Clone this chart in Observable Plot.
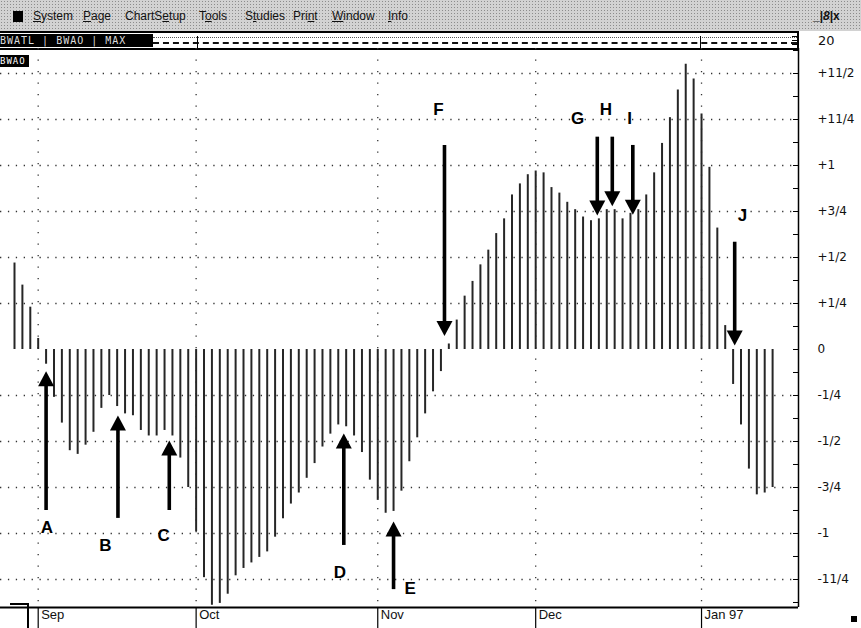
<!DOCTYPE html>
<html><head><meta charset="utf-8">
<script src="https://cdn.jsdelivr.net/npm/d3@7"></script>
<script src="https://cdn.jsdelivr.net/npm/@observablehq/plot@0.6"></script>
<style>
html,body{margin:0;padding:0;background:#fff;}
#page{position:relative;width:861px;height:628px;overflow:hidden;font-family:"Liberation Sans",Arial,sans-serif;}
#menu{position:absolute;left:0;top:0;width:861px;height:31px;background-color:#d2d2d2;background-image:radial-gradient(#8c8c8c 0.7px,transparent 0.9px);background-size:3px 3px;}
.mi{position:absolute;top:9px;font-size:12px;line-height:14px;color:#111;white-space:nowrap;}
#icon{position:absolute;left:13px;top:11px;width:10px;height:11px;background:#000;}
.blk{position:absolute;background:#000;}
#chart{position:absolute;left:0;top:48px;}
.lab{position:absolute;color:#ddd;background:#000;font-family:"DejaVu Sans Mono",monospace;font-size:10px;line-height:13px;letter-spacing:1px;white-space:pre;}
[aria-label="ylabels"]{letter-spacing:2.4px;}
[aria-label="months"]{letter-spacing:1.2px;}
</style></head>
<body><div id="page">
  <div id="menu">
    <div id="icon"></div>
    <div class="mi" style="left:33px"><u>S</u>ystem</div>
    <div class="mi" style="left:83px"><u>P</u>age</div>
    <div class="mi" style="left:125px">ChartS<u>e</u>tup</div>
    <div class="mi" style="left:199px">T<u>o</u>ols</div>
    <div class="mi" style="left:245px">S<u>t</u>udies</div>
    <div class="mi" style="left:293px">Pri<u>n</u>t</div>
    <div class="mi" style="left:332px"><u>W</u>indow</div>
    <div class="mi" style="left:388px"><u>I</u>nfo</div>
    <div class="mi" style="left:813px;font-weight:bold">_|<span style="font-style:italic">8</span>|x</div>
  </div>
  <div class="blk" style="left:0;top:31px;width:798px;height:2px"></div>
  <div class="lab" style="left:0;top:34px;width:153px;height:13px">BWATL | BWAO | MAX</div>
  <div style="position:absolute;left:153px;top:37px;width:644px;height:0;border-top:1px dotted #555"></div>
  <div style="position:absolute;left:153px;top:42px;width:644px;height:0;border-top:2px dashed #111"></div>
  <div class="blk" style="left:197px;top:36px;width:1px;height:12px"></div>
  <div class="blk" style="left:700px;top:36px;width:1px;height:12px"></div>
  <div class="blk" style="left:0;top:48px;width:798px;height:2px"></div>
  <div class="blk" style="left:797px;top:31px;width:2px;height:18px"></div>
  <div class="blk" style="left:792px;top:36px;width:5px;height:1px"></div>
  <div class="blk" style="left:792px;top:40px;width:5px;height:1px"></div>
  <div class="blk" style="left:792px;top:44px;width:5px;height:1px"></div>
  <div style="position:absolute;left:818px;top:33px;font-size:13px;color:#111;font-family:'DejaVu Sans',sans-serif">20</div>
  <div id="chart"></div>
  <div class="lab" style="left:0;top:55px;width:29px;height:12px;color:#fff;font-size:9px;line-height:12px">BWAO</div>
  <div class="blk" style="left:10px;top:603px;width:18px;height:1.5px"></div>
  <div class="blk" style="left:27px;top:603px;width:1.5px;height:25px"></div>
  <div class="blk" style="left:851px;top:616px;width:6px;height:6px"></div>
</div>
<script>
// Daily BWAO oscillator values, one per trading day (late Aug 1996 .. early Jan 1997)
const values = [
  0.47, 0.35, 0.23, 0.06, -0.08, -0.26, -0.40, -0.55, -0.57, -0.52,
  -0.45, -0.32, -0.25, -0.31, -0.35, -0.36, -0.44, -0.47, -0.47, -0.44,
  -0.47, -0.59, -0.75, -0.99, -1.24, -1.39, -1.38, -1.33, -1.23, -1.19,
  -1.16, -1.13, -1.10, -1.02, -0.92, -0.84, -0.78, -0.70, -0.62, -0.53,
  -0.46, -0.41, -0.42, -0.47, -0.56, -0.71, -0.82, -0.89, -0.88, -0.77,
  -0.61, -0.48, -0.35, -0.23, -0.12, 0.03, 0.16, 0.29, 0.37, 0.46,
  0.54, 0.63, 0.71, 0.84, 0.90, 0.95, 0.97, 0.96, 0.88, 0.85,
  0.80, 0.76, 0.72, 0.70, 0.71, 0.76, 0.76, 0.71, 0.74, 0.76,
  0.84, 0.96, 1.12, 1.26, 1.41, 1.55, 1.47, 1.28, 0.99, 0.66,
  0.13, -0.19, -0.41, -0.65, -0.79, -0.78, -0.75
];
// first trading day of each month (bar index)
const monthTicks = [3, 23, 46, 66, 87];
const monthLabels = ["Sep", "Oct", "Nov", "Dec", "Jan 97"];
const yTickValues = [-1.25, -1, -0.75, -0.5, -0.25, 0, 0.25, 0.5, 0.75, 1, 1.25, 1.5];
const yTickLabels = ["-11/4", "-1", "-3/4", "-1/2", "-1/4", "0", "+1/4", "+1/2", "+3/4", "+1", "+11/4", "+11/2"];
const gridLevels = [-1.25, -1, -0.75, -0.5, -0.25, 0.25, 0.5, 0.75, 1, 1.25, 1.5];
const minorLevels = d3.range(-11, 14).map(k => k / 8);
// annotation arrows
const arrowLetters = ["A", "B", "C", "D", "E", "F", "G", "H", "I", "J"];
const arrowAt   = [4.0, 13.1, 19.6, 41.7, 48.0, 54.45, 73.8, 75.7, 78.3, 91.2];
const arrowFrom = [-0.875, -0.918, -0.875, -1.065, -1.305, 1.109, 1.154, 1.154, 1.109, 0.583];
const arrowTo   = [-0.118, -0.359, -0.495, -0.456, -0.935, 0.073, 0.728, 0.779, 0.732, 0.022];
const letterAt  = [4.1, 11.5, 18.9, 41.2, 50.1, 53.7, 71.3, 74.9, 77.9, 92.2];
const letterY   = [-0.967, -1.065, -1.011, -1.21, -1.30, 1.304, 1.255, 1.304, 1.255, 0.728];

const xDomain = [-1.773, 99.28];
const yDomain = [-1.4022, 1.6359];
const pxPerIdx = 798 / (xDomain[1] - xDomain[0]);
const pxPerUnit = 559 / (yDomain[1] - yDomain[0]);

const bars = values.map((v, i) => ({i, v}));
const arrows = arrowLetters.map((L, k) => ({
  L, x: arrowAt[k], from: arrowFrom[k], to: arrowTo[k], up: arrowTo[k] > arrowFrom[k]
}));
const letters = arrowLetters.map((L, k) => ({L, x: letterAt[k], y: letterY[k]}));
const headH = 15, headW = 16;
const upHead = {draw(ctx) { ctx.moveTo(0, 0); ctx.lineTo(-headW / 2, headH); ctx.lineTo(headW / 2, headH); ctx.closePath(); }};
const downHead = {draw(ctx) { ctx.moveTo(0, 0); ctx.lineTo(-headW / 2, -headH); ctx.lineTo(headW / 2, -headH); ctx.closePath(); }};
const headUnits = 10 / pxPerUnit;

const chart = Plot.plot({
  width: 861, height: 580,
  marginLeft: 0, marginRight: 63, marginTop: 0, marginBottom: 21,
  x: {domain: xDomain, axis: null},
  y: {domain: yDomain, axis: null},
  style: {background: "transparent", overflow: "visible"},
  marks: [
    Plot.ruleY(gridLevels, {stroke: "#333", strokeWidth: 1.3, strokeDasharray: "1.3,6.6"}),
    Plot.ruleX(monthTicks, {stroke: "#333", strokeWidth: 1.3, strokeDasharray: "1.3,10.2"}),
    Plot.ruleX(bars, {x: "i", y1: 0, y2: "v", stroke: "#262626", strokeWidth: 2}),
    Plot.ruleY([yDomain[0]], {stroke: "#000", strokeWidth: 2}),
    Plot.ruleX(monthTicks, {y1: yDomain[0], y2: yDomain[0] - 21 / pxPerUnit, stroke: "#000", strokeWidth: 1.2}),
    Plot.text(monthTicks, {x: d => d, frameAnchor: "bottom", dy: 11, dx: 3, text: (d, k) => monthLabels[k],
      textAnchor: "start", fontSize: 13, fill: "#111", ariaLabel: "months", fontFamily: "Liberation Sans, Arial, sans-serif"}),
    Plot.ruleX([xDomain[1]], {stroke: "#000", strokeWidth: 1.5}),
    Plot.ruleY(minorLevels, {x1: xDomain[1] - 5 / pxPerIdx, x2: xDomain[1], stroke: "#000", strokeWidth: 1}),
    Plot.text(yTickValues, {x: xDomain[1], y: d => d, dx: 19, text: (d, k) => yTickLabels[k], textAnchor: "start",
      fontSize: 12, fill: "#111", ariaLabel: "ylabels", fontFamily: "DejaVu Sans, sans-serif"}),
    Plot.ruleX(arrows, {x: "x", y1: "from", y2: d => d.up ? d.to - headUnits : d.to + headUnits, stroke: "#000", strokeWidth: 3.6}),
    Plot.dot(arrows.filter(d => d.up), {x: "x", y: "to", symbol: upHead, fill: "#000", stroke: "none", r: 6}),
    Plot.dot(arrows.filter(d => !d.up), {x: "x", y: "to", symbol: downHead, fill: "#000", stroke: "none", r: 6}),
    Plot.text(letters, {x: "x", y: "y", text: "L", fontSize: 17, fontWeight: "bold", fill: "#000",
      fontFamily: "Liberation Sans, Arial, sans-serif"})
  ]
});
document.getElementById("chart").appendChild(chart);
</script>
</body></html>
